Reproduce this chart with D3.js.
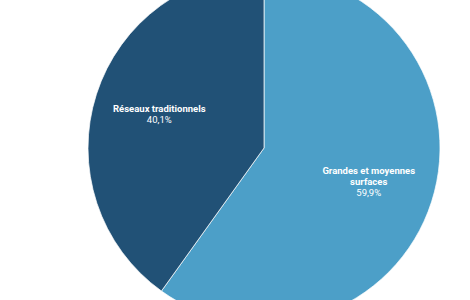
<!DOCTYPE html>
<html>
<head>
<meta charset="utf-8">
<script src="https://cdn.jsdelivr.net/npm/d3@7"></script>
<style>
  body { margin: 0; background: #fff; }
  svg { display: block; }
</style>
</head>
<body>
<script>
var WIDTH = 470, HEIGHT = 300;

var categories = ["Grandes et moyennes surfaces", "Réseaux traditionnels"];
var values = [59.9, 40.1];
var colours = ["#4c9fc8", "#215176"];
// label lines, split as in the picture
var labelLines = [["Grandes et moyennes", "surfaces"], ["Réseaux traditionnels"]];

var CX = 264, CY = 148, R = 176;

var svg = d3.select("body").append("svg")
    .attr("width", WIDTH)
    .attr("height", HEIGHT);

var data = categories.map(function (c, i) {
    return { name: c, value: values[i], colour: colours[i], lines: labelLines[i] };
});

var pie = d3.pie().sort(null).value(function (d) { return d.value; });
var arc = d3.arc().innerRadius(0).outerRadius(R);
var labelArc = d3.arc().innerRadius(R * 0.625).outerRadius(R * 0.625);

var g = svg.append("g").attr("transform", "translate(" + CX + "," + CY + ")");

g.selectAll("path")
    .data(pie(data))
    .enter().append("path")
    .attr("d", arc)
    .attr("fill", function (d) { return d.data.colour; })
    .attr("stroke", "#fff")
    .attr("stroke-width", 0.7);

var fmt = function (v) { return v.toFixed(1).replace(".", ",") + "%"; };

var labels = g.selectAll("text.lbl")
    .data(pie(data))
    .enter().append("text")
    .attr("class", "lbl")
    .attr("text-anchor", "middle")
    .attr("font-family", "Roboto, sans-serif")
    .attr("font-size", 9.5)
    .attr("fill", "#fff")
    .attr("transform", function (d) {
        var c = labelArc.centroid(d);
        var n = d.data.lines.length + 1;
        return "translate(" + c[0] + "," + (c[1] - (n - 1) * 11 / 2 + 3.5) + ")";
    });

labels.each(function (d) {
    var t = d3.select(this);
    d.data.lines.forEach(function (l, i) {
        t.append("tspan").attr("x", 0).attr("dy", i === 0 ? 0 : 11)
            .attr("font-weight", "bold").text(l);
    });
    t.append("tspan").attr("x", 0).attr("dy", 11).text(fmt(d.data.value));
});
</script>
</body>
</html>
